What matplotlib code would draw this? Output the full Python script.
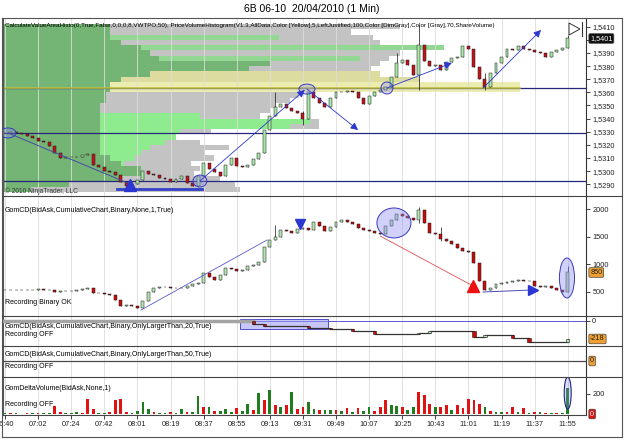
import matplotlib
matplotlib.use('Agg')
import matplotlib.pyplot as plt
from matplotlib.patches import Ellipse, Rectangle, Polygon
from matplotlib.lines import Line2D

plt.rcParams['font.family'] = ['Liberation Sans', 'DejaVu Sans']

# ---- данные ----
time_labels = ['06:40', '07:02', '07:24', '07:42', '08:01', '08:19', '08:37', '08:55', '09:13',
               '09:31', '09:49', '10:07', '10:25', '10:43', '11:01', '11:19', '11:37', '11:55']

# цена закрытия, бары по 3 минуты
price_close = [
    1.5329, 1.5330, 1.5329, 1.5328, 1.5327, 1.5325, 1.5323, 1.5322, 1.5319, 1.5314,
    1.5310, 1.5311, 1.5311, 1.5311, 1.5312, 1.5313, 1.5305, 1.5303, 1.5300, 1.5299,
    1.5297, 1.5292, 1.5289, 1.5290, 1.5293, 1.5300, 1.5298, 1.5297, 1.5295, 1.5294,
    1.5292, 1.5294, 1.5296, 1.5291, 1.5289, 1.5296, 1.5306, 1.5302, 1.5299, 1.5296,
    1.5305, 1.5310, 1.5304, 1.5303, 1.5305, 1.5309, 1.5314, 1.5331, 1.5342, 1.5349,
    1.5351, 1.5348, 1.5346, 1.5344, 1.5340, 1.5360, 1.5356, 1.5352, 1.5349, 1.5356,
    1.5360, 1.5360, 1.5361, 1.5360, 1.5356, 1.5351, 1.5357, 1.5360, 1.5362, 1.5364,
    1.5372, 1.5382, 1.5385, 1.5381, 1.5373, 1.5396, 1.5384, 1.5380, 1.5381, 1.5377,
    1.5383, 1.5386, 1.5387, 1.5395, 1.5393, 1.5379, 1.5370, 1.5364, 1.5375, 1.5382,
    1.5387, 1.5393, 1.5392, 1.5395, 1.5393, 1.5392, 1.5391, 1.5390, 1.5387, 1.5391,
    1.5392, 1.5394, 1.5401]
price_wick_k = [49, 54, 71, 75, 87, 102]
price_wick_hi = [1.5360, 1.5346, 1.5390, 1.5411, 1.5375, 1.5404]
price_wick_lo = [1.5348, 1.5335, 1.5372, 1.5362, 1.5362, 1.5394]

# GomCD кумулятивная дельта
cd_close = [
    525, 525, 530, 530, 530, 535, 540, 535, 535, 500,
    510, 515, 520, 530, 540, 562, 476, 470, 460, 440,
    350, 230, 260, 230, 200, 330, 500, 560, 580, 585,
    575, 570, 575, 610, 640, 660, 835, 760, 713, 800,
    927, 920, 880, 900, 960, 990, 1050, 1321, 1443, 1500,
    1620, 1600, 1565, 1640, 1660, 1620, 1770, 1700, 1600, 1680,
    1780, 1800, 1770, 1740, 1660, 1620, 1600, 1570, 1560, 1700,
    1810, 1920, 1880, 1850, 1800, 1990, 1750, 1570, 1560, 1460,
    1430, 1370, 1300, 1240, 1230, 1018, 700, 530, 560, 640,
    650, 680, 690, 713, 700, 690, 600, 590, 595, 560,
    530, 500, 850]
cd_wick_k = [49, 75, 79, 102]
cd_wick_hi = [1720, 2050, 1680, 960]
cd_wick_lo = [1440, 1750, 1430, 500]

# GomCD OnlyLargerThan 20 (ступеньки)
cd20_k = [0, 45, 47, 55, 59, 63, 67, 75, 77, 85, 87, 92, 95, 102]
cd20_v = [0, -36, -60, -85, -100, -121, -157, -140, -117, -190, -170, -210, -250, -218]

# GomDeltaVolume (+ зелёный, - красный)
delta_vol = [
    8, -6, 10, 5, -8, 12, -10, 6, 15, -76,
    -20, 10, 8, 20, -15, -155, -50, 12, 10, -25,
    -138, -150, -20, 15, 30, 120, 50, -20, 10, 15,
    -18, 12, 50, -25, 20, 180, -70, 70, -30, 35,
    50, 25, -60, 30, 103, -40, 207, -138, 241, -86,
    70, -86, 224, -50, -70, 120, 50, -40, 45, 40,
    -45, 30, -60, 25, -60, 30, 70, -35, -70, -138,
    86, 80, -70, 40, 70, -224, -190, -103, 70, -70,
    -86, 40, -86, -60, -155, -138, -103, 70, -30, 20,
    25, -20, -70, 20, -60, 15, -20, 20, -15, 15,
    -10, 10, 260]

# профиль объёма по цене (ряды по 0.0004)
profile_price = [1.5410 - 0.0004 * i for i in range(32)]
profile_gray = [216, 189, 201, 205, 210, 216, 210, 205, 200, 205, 227, 281, 281, 161, 156, 148,
                145, 140, 172, 172, 113, 80, 107, 123, 110, 115, 102, 107, 104, 118, 126, 129]
profile_light = [0, 0, 150, 0, 240, 0, 194, 0, 0, 0, 0, 0, 0, 0, 0, 0,
                 0, 107, 167, 156, 96, 94, 88, 80, 75, 72, 66, 0, 0, 0, 0, 0]
profile_green = [58, 58, 58, 64, 75, 80, 85, 145, 134, 80, 64, 58, 58, 56, 56, 53,
                 53, 53, 53, 53, 53, 53, 53, 53, 53, 58, 64, 75, 75, 64, 36, 15]

# ---- разметка в пикселях ----
W, H = 625, 442
fig = plt.figure(figsize=(W / 100, H / 100), dpi=100)


def axes_px(x0, y0, x1, y1):
    return fig.add_axes([x0 / W, 1 - y1 / H, (x1 - x0) / W, (y1 - y0) / H])


def fig_line(x0, y0, x1, y1, color='#555555', lw=0.8):
    fig.add_artist(Line2D([x0 / W, x1 / W], [1 - y0 / H, 1 - y1 / H], color=color, lw=lw))


def fig_text(x, y, s, size=5.2, **kw):
    fig.text(x / W, 1 - y / H, s, fontsize=size, va='center', **kw)


ax_p = axes_px(3, 18, 586, 196)
ax_cd = axes_px(3, 196, 586, 316)
ax_20 = axes_px(3, 316, 586, 346)
ax_50 = axes_px(3, 346, 586, 377)
ax_v = axes_px(3, 377, 586, 415)
axes = [ax_p, ax_cd, ax_20, ax_50, ax_v]

tick_idx = [18 * i for i in range(len(time_labels))]
xl, xr = -1.09, 315.95
for ax in axes:
    ax.set_xlim(xl, xr)
    for s in ['top', 'bottom']:
        ax.spines[s].set_visible(False)
    ax.spines['left'].set_color('#555555')
    ax.spines['right'].set_color('#333333')
    ax.spines['left'].set_linewidth(0.8)
    ax.spines['right'].set_linewidth(0.8)
    ax.yaxis.tick_right()
    ax.tick_params(axis='y', labelsize=5.3, length=3, width=0.6, pad=1.5, colors='#222222')
    ax.set_xticks([])
    for t in tick_idx:
        ax.axvline(t, color='#dcdcdc', lw=0.6, zorder=1)

xs = [3 * k for k in range(len(price_close))]


def draw_candles(ax, closes, wk, whi, wlo, width, up_col, dn_col):
    opens = [closes[0]] + closes[:-1]
    highs = [max(o, c) for o, c in zip(opens, closes)]
    lows = [min(o, c) for o, c in zip(opens, closes)]
    for k, h, l in zip(wk, whi, wlo):
        highs[k] = max(highs[k], h)
        lows[k] = min(lows[k], l)
    ax.vlines(xs, lows, highs, color='#111111', lw=0.5, zorder=3)
    cols = [up_col if c >= o else dn_col for o, c in zip(opens, closes)]
    hts = [c - o for o, c in zip(opens, closes)]
    ax.bar(xs, hts, bottom=opens, width=width, color=cols, edgecolor='#1a1a1a',
           linewidth=0.35, zorder=4)


# ---- цена ----
ax_p.set_ylim(1.52811, 1.54166)
pt = [1.5290 + 0.001 * i for i in range(13)]
ax_p.set_yticks(pt)
# метка 1,5400 закрыта ярлыком последней цены
ax_p.set_yticklabels(['' if abs(v - 1.5400) < 1e-6 else f'{v:.4f}'.replace('.', ',') for v in pt])

for p, g, lg, gr in zip(profile_price, profile_gray, profile_light, profile_green):
    gcol = '#dcdca0' if 1.5361 <= p <= 1.5375 else '#c3c3c3'
    if 1.5361 <= p <= 1.5367:
        gcol = '#ececb0'
    ax_p.barh(p, g, height=0.0004, left=xl, color=gcol, zorder=0)
    if lg:
        lcol = '#92d892' if p > 1.5380 else '#8eec8e'
        ax_p.barh(p, lg, height=0.0004, left=xl, color=lcol, zorder=0)
    ax_p.barh(p, gr, height=0.0004, left=xl, color='#74b474', zorder=0)

navy = '#26267a'
for lvl in [1.53631, 1.53288, 1.52925]:
    ax_p.axhline(lvl, color=navy, lw=0.9, zorder=2)
ax_p.plot([xl, 280], [1.53631, 1.53631], color='#c4c43c', lw=1.1, zorder=2)
ax_p.plot([61, 107], [1.52865, 1.52865], color='#3340c8', lw=2, zorder=5)

draw_candles(ax_p, price_close, price_wick_k, price_wick_hi, price_wick_lo,
             1.6, '#a8e6a8', '#c0141c')

blue = '#2c36d0'
ell_face = (0.55, 0.55, 0.95, 0.35)
for cx, cy, w, h in [(1.6, 1.53291, 8.7, 0.00076), (106, 1.52925, 7.6, 0.00091),
                     (164.2, 1.53625, 8.7, 0.00076), (207.7, 1.53633, 6.5, 0.00091)]:
    ax_p.add_patch(Ellipse((cx, cy), w, h, fc=ell_face, ec='#3a3ac0', lw=0.7, zorder=6))

ax_p.plot([1.6, 68], [1.53291, 1.52902], color='#4a4aa8', lw=0.7, zorder=6)
ax_p.plot(68, 1.52893, marker='^', ms=8, color=blue, zorder=7)
for (x0, y0), (x1, y1) in [((106, 1.52925), (163, 1.53618)),
                           ((164.2, 1.53625), (192, 1.53313)),
                           ((207.7, 1.53633), (243, 1.53824)),
                           ((260, 1.53633), (291.5, 1.54075))]:
    ax_p.annotate('', xy=(x1, y1), xytext=(x0, y0),
                  arrowprops=dict(arrowstyle='-|>', color=blue, lw=0.6,
                                  mutation_scale=11, shrinkA=0, shrinkB=0), zorder=7)

# значок "play" в правом верхнем углу
tr = ax_p.transAxes
ax_p.add_patch(Polygon([((569 - 3) / 583, 1 - 5 / 178), ((569 - 3) / 583, 1 - 17 / 178),
                        ((580 - 3) / 583, 1 - 11 / 178)], closed=True, fill=False,
                       ec='#333333', lw=0.7, transform=tr))
ax_p.plot([(582 - 3) / 583] * 2, [1 - 4 / 178, 1 - 18 / 178], color='#333333', lw=0.8,
          transform=tr)


def tag(ax, val, text, fc, tc, bold=False):
    ax.annotate(text, xy=(1, val), xycoords=ax.get_yaxis_transform(),
                xytext=(3, 0), textcoords='offset points', va='center', ha='left',
                fontsize=5.2, color=tc, fontweight='bold' if bold else 'normal',
                bbox=dict(boxstyle='round,pad=0.18', fc=fc, ec='#444444', lw=0.5),
                annotation_clip=False, zorder=10)


tag(ax_p, price_close[-1], f'{price_close[-1]:.4f}'.replace('.', ','), '#111111', 'white')

# ---- GomCD ----
ax_cd.set_ylim(56, 2246)
ax_cd.set_yticks([500, 1000, 1500, 2000])
draw_candles(ax_cd, cd_close, cd_wick_k, cd_wick_hi, cd_wick_lo, 1.6, '#b4e4b4', '#c80c0c')
ax_cd.plot([74, 142.5], [166, 1443], color='#5a5ac8', lw=0.6, zorder=5)
ax_cd.plot(160.4, 1735, marker='v', ms=7, color=blue, zorder=7)
ax_cd.add_patch(Ellipse((211.5, 1754), 18.5, 547, fc=(0.55, 0.55, 0.95, 0.4),
                        ec='#3a3ac0', lw=0.7, zorder=6))
ax_cd.plot([204, 254.5], [1516, 604], color='#e05050', lw=0.6, zorder=5)
ax_cd.plot(254.5, 604, marker='^', ms=8, color='#ee1111', zorder=7)
ax_cd.plot([260, 287], [494, 531], color='#4a4ab8', lw=0.7, zorder=5)
ax_cd.plot(287, 531, marker='>', ms=7, color=blue, zorder=7)
ax_cd.add_patch(Ellipse((305.6, 750), 8.2, 730, fc=(0.55, 0.55, 0.95, 0.4),
                        ec='#3a3ac0', lw=0.7, zorder=6))
tag(ax_cd, cd_close[-1], str(cd_close[-1]), '#f0a030', '#222222')

# ---- GomCD > 20 ----
ax_20.set_ylim(-303, 60)
ax_20.set_yticks([0])
ax_20.axhline(0, color='#5a5ad0', lw=0.7, zorder=2)
ax_20.plot([xl, 3 * cd20_k[1]], [0, 0], color='#a4a4a4', lw=2.5, zorder=3)
ax_20.add_patch(Rectangle((127.8, -97), 47.8, 121, fc=(0.6, 0.6, 0.95, 0.55),
                          ec='#5050c8', lw=0.7, zorder=2))
sx = [3 * k for k in cd20_k[1:]] + [306]
sv = cd20_v[1:] + [cd20_v[-1]]
ax_20.plot(sx, sv, drawstyle='steps-post', color='#333333', lw=0.9, zorder=4)
for i in range(1, len(cd20_k)):
    d = cd20_v[i] - cd20_v[i - 1]
    ax_20.bar(3 * cd20_k[i], d, bottom=cd20_v[i - 1], width=1.8,
              color='#c80c0c' if d < 0 else '#b4e4b4', edgecolor='#1a1a1a', lw=0.4, zorder=5)
tag(ax_20, cd20_v[-1], str(cd20_v[-1]), '#f0a030', '#222222')

# ---- GomCD > 50 ----
ax_50.set_ylim(-16, 15)
ax_50.set_yticks([])
ax_50.axhline(0, color='#4a4a4a', lw=0.9, zorder=3)
tag(ax_50, 0, '0', '#f0a030', '#222222')

# ---- Delta volume ----
ax_v.set_ylim(-10, 370)
ax_v.set_yticks([200])
ax_v.bar(xs, [abs(v) for v in delta_vol], width=1.5,
         color=['#1f7d1f' if v > 0 else '#e01212' for v in delta_vol], zorder=3)
ax_v.add_patch(Ellipse((306, 210), 3.8, 320, fc=(0.55, 0.55, 0.95, 0.3),
                       ec='#202080', lw=0.8, zorder=6))
tag(ax_v, 0, '0', '#dd1111', 'white')
ax_v.set_xticks(tick_idx)
ax_v.set_xticklabels(time_labels)
ax_v.tick_params(axis='x', labelsize=5.3, length=3, width=0.6, pad=1.5, colors='#222222')

# ---- рамки и подписи ----
fig_line(2, 18, 622, 18)
fig_line(2, 437, 622, 437)
fig_line(2, 18, 2, 437)
fig_line(622, 18, 622, 437)
for y in [196, 316, 346, 377]:
    fig_line(2, y, 622, y, color='#444444')
fig_line(3, 415, 586, 415, color='#444444')

fig_text(312, 9, '6B 06-10  20/04/2010 (1 Min)', size=7.5, ha='center')
fig_text(5, 25, 'CalculateValueAreaHisto(0,True,False,0,0,0,8,VWTPO,50), PriceVolumeHistogram'
                '(V1.3,AllData,Color [Yellow],5,LeftJustified,100,Color [DimGray],Color [Gray],'
                '70,ShareVolume)', size=4.5)
fig_text(5, 191, '© 2010 NinjaTrader, LLC', size=4.8, color='#333333')
fig_text(5, 210, 'GomCD(BidAsk,CumulativeChart,Binary,None,1,True)', size=5)
fig_text(5, 303, 'Recording Binary OK', size=5)
fig_text(5, 326, 'GomCD(BidAsk,CumulativeChart,Binary,OnlyLargerThan,20,True)', size=5)
fig_text(5, 335, 'Recording OFF', size=5)
fig_text(5, 355, 'GomCD(BidAsk,CumulativeChart,Binary,OnlyLargerThan,50,True)', size=5)
fig_text(5, 366, 'Recording OFF', size=5)
fig_text(5, 389, 'GomDeltaVolume(BidAsk,None,1)', size=5)
fig_text(5, 405, 'Recording OFF', size=5)

fig.savefig('out.png', dpi=100)
